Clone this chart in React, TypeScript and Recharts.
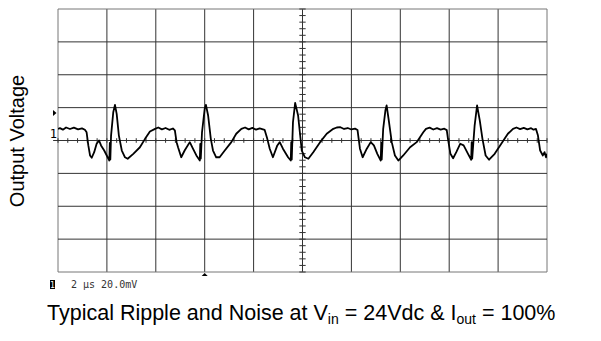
import React from 'react';
import { LineChart, Line, XAxis, YAxis, ReferenceLine, ReferenceDot } from 'recharts';

// scope trace, 2 us/div, 20 mV/div
const TIME_US = [
	0.0, 0.08, 0.2, 0.33, 0.49, 0.65, 0.82, 0.98, 1.1, 1.17, 1.24, 1.31, 1.38, 1.48, 1.58, 1.68, 1.76, 1.89, 2.03, 2.1,
	2.12, 2.14, 2.17, 2.26, 2.33, 2.4, 2.49, 2.61, 2.74, 2.85, 3.08, 3.35, 3.56, 3.76, 3.97, 4.1, 4.25, 4.4, 4.55, 4.7,
	4.78, 4.85, 4.91, 5.04, 5.18, 5.39, 5.52, 5.66, 5.8, 5.82, 5.84, 5.89, 6.0, 6.05, 6.14, 6.25, 6.34, 6.47, 6.61, 6.82,
	7.09, 7.29, 7.5, 7.65, 7.8, 7.95, 8.1, 8.25, 8.45, 8.56, 8.66, 8.79, 8.97, 9.07, 9.2, 9.41, 9.52, 9.54, 9.56, 9.61,
	9.7, 9.82, 9.97, 10.1, 10.24, 10.44, 10.72, 10.99, 11.26, 11.4, 11.55, 11.7, 11.85, 12.0, 12.15, 12.25, 12.28, 12.35, 12.46, 12.63,
	12.79, 12.92, 13.06, 13.2, 13.22, 13.24, 13.3, 13.39, 13.44, 13.52, 13.65, 13.78, 13.92, 14.12, 14.4, 14.67, 14.94, 15.05, 15.2, 15.35,
	15.5, 15.65, 15.8, 15.9, 15.95, 16.05, 16.16, 16.29, 16.45, 16.59, 16.77, 16.9, 16.92, 16.94, 17.04, 17.14, 17.25, 17.36, 17.49, 17.63,
	17.86, 18.13, 18.4, 18.61, 18.75, 18.9, 19.05, 19.2, 19.35, 19.45, 19.55, 19.63, 19.72, 19.83, 19.9, 19.96, 20.0,
];
const RIPPLE_MV = [
	7.1, 7.5, 6.6, 7.9, 7.0, 7.8, 6.8, 7.4, 6.5, 5.0, -3.0, -9.1, -10.5, -7.1, -2.0, 0.0, -3.0, -6.1, -10.2, -12.2,
	-1.5, -11.5, 3.0, 17.2, 21.7, 16.2, 3.0, -6.1, -10.2, -11.1, -8.1, -4.1, 1.0, 5.5, 7.1, 7.9, 6.8, 7.6, 6.5, 7.3,
	6.2, -1.0, -4.1, -10.2, -6.1, -1.0, -5.0, -9.1, -12.2, -2.0, -11.0, 5.0, 19.3, 21.7, 15.2, 1.0, -6.1, -10.2, -10.2, -6.1,
	-1.0, 4.1, 7.1, 7.9, 6.8, 7.7, 6.6, 7.4, 6.5, 1.0, -5.0, -10.2, -3.0, -1.0, -5.0, -10.2, -12.2, -1.0, -11.5, 11.1,
	22.9, 15.2, -6.1, -10.2, -11.1, -7.1, -1.0, 4.1, 7.1, 7.9, 8.1, 7.0, 7.6, 6.7, 7.2, 6.4, 3.0, -5.0, -10.2, -5.0,
	-1.0, -3.0, -8.1, -12.2, -1.5, -11.5, 7.1, 18.2, 21.3, 13.2, -1.0, -9.1, -12.2, -9.1, -4.1, -1.0, 5.0, 7.1, 7.8, 6.7,
	7.5, 6.6, 7.2, 6.3, 1.0, -8.1, -10.8, -7.1, -2.0, -3.0, -8.1, -11.7, -1.0, -11.0, 9.1, 21.3, 12.2, 1.0, -9.1, -11.7,
	-8.1, -2.0, 4.1, 7.1, 7.9, 6.9, 7.7, 6.8, 7.5, 6.6, 7.0, 3.0, -6.1, -9.1, -7.1, -10.2, -8.0,
];

const DIV_X = [0, 2, 4, 6, 8, 10, 12, 14, 16, 18, 20];
const DIV_Y = [-80, -60, -40, -20, 0, 20, 40, 60, 80];
const MINOR_X = Array.from({ length: 51 }, (_, i) => +(i * 0.4).toFixed(1));
const MINOR_Y = Array.from({ length: 41 }, (_, i) => -80 + i * 4);

const TRIGGER_MV = 16.7;
const TRIGGER_US = 6;

const trace = TIME_US.map((t, i) => ({ t, v: RIPPLE_MV[i] }));

const gridColor = '#333';
const edgeColor = '#777';

export default function App() {
	return (
		<div style={{ position: 'absolute', left: 0, top: 0, width: 601, height: 341, background: '#fff' }}>
			<LineChart width={601} height={341} data={trace} margin={{ top: 9, right: 54, bottom: 69, left: 58 }}>
				<XAxis type="number" dataKey="t" domain={[0, 20]} hide allowDataOverflow />
				<YAxis type="number" domain={[-80, 80]} hide allowDataOverflow />
				{DIV_X.map((x) => (
					<ReferenceLine key={`vx${x}`} x={x} stroke={x === 0 || x === 20 ? edgeColor : gridColor} strokeWidth={1} />
				))}
				{DIV_Y.map((y) => (
					<ReferenceLine key={`hy${y}`} y={y} stroke={y === -80 || y === 80 ? edgeColor : gridColor} strokeWidth={1} />
				))}
				{MINOR_X.map((x) => (
					<ReferenceLine key={`mx${x}`} segment={[{ x, y: -1.4 }, { x, y: 1.4 }]} stroke={gridColor} strokeWidth={1} />
				))}
				{MINOR_Y.map((y) => (
					<ReferenceLine key={`my${y}`} segment={[{ x: 9.87, y }, { x: 10.13, y }]} stroke={gridColor} strokeWidth={1} />
				))}
				<ReferenceLine segment={[{ x: -0.2, y: 0 }, { x: 0, y: 0 }]} stroke={gridColor} ifOverflow="visible" />
				<ReferenceDot
					x={0}
					y={TRIGGER_MV}
					ifOverflow="visible"
					shape={(p: any) => <path d={`M${p.cx - 5},${p.cy - 3} L${p.cx - 1.5},${p.cy} L${p.cx - 5},${p.cy + 3} Z`} fill="#000" />}
				/>
				<ReferenceDot
					x={0}
					y={0}
					ifOverflow="visible"
					shape={(p: any) => (
						<text x={p.cx - 1} y={p.cy - 3} textAnchor="end" fontFamily="DejaVu Sans Mono" fontSize={12} fill="#000">
							1
						</text>
					)}
				/>
				<ReferenceDot
					x={TRIGGER_US}
					y={-80}
					ifOverflow="visible"
					shape={(p: any) => <path d={`M${p.cx - 3},${p.cy + 4} L${p.cx},${p.cy + 1} L${p.cx + 3},${p.cy + 4} Z`} fill="#000" />}
				/>
				<Line type="linear" dataKey="v" stroke="#000" strokeWidth={1.8} strokeLinejoin="round" dot={false} isAnimationActive={false} />
			</LineChart>
			<svg width={601} height={341} style={{ position: 'absolute', left: 0, top: 0, pointerEvents: 'none' }}>
				<rect x={50} y={280} width={5} height={9} fill="#000" />
				<text x={52.5} y={287.5} textAnchor="middle" fontFamily="DejaVu Sans Mono" fontSize={8} fill="#fff">1</text>
				<text x={71} y={288} fontFamily="DejaVu Sans Mono" fontSize={10} fill="#333">2 µs 20.0mV</text>
				<text
					x={24}
					y={141}
					transform="rotate(-90 24 141)"
					textAnchor="middle"
					fontFamily="Liberation Sans, Arial, sans-serif"
					fontSize={20}
					fill="#000"
				>
					Output Voltage
				</text>
				<text x={47} y={320} fontFamily="Liberation Sans, Arial, sans-serif" fontSize={21.5} fill="#000">
					Typical Ripple and Noise at V<tspan fontSize={14} dy={4}>in</tspan>
					<tspan dy={-4}> = 24Vdc &amp; I</tspan>
					<tspan fontSize={14} dy={4}>out</tspan>
					<tspan dy={-4}> = 100%</tspan>
				</text>
			</svg>
		</div>
	);
}
